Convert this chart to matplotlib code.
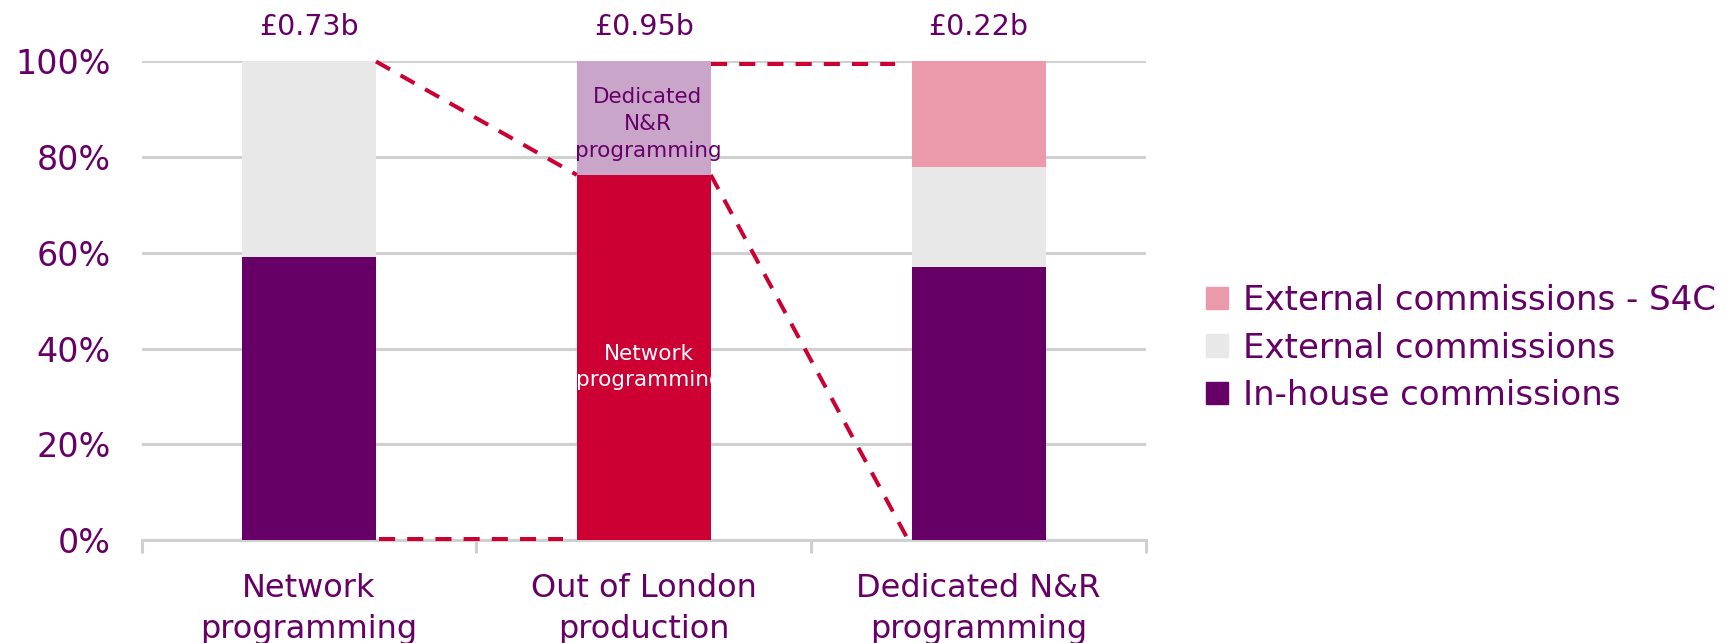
import matplotlib
matplotlib.use("Agg")
import matplotlib.pyplot as plt
from matplotlib.patches import Patch

# chart data (shares in %)
categories = ["Network\nprogramming", "Out of London\nproduction", "Dedicated N&R\nprogramming"]
totals = ["£0.73b", "£0.95b", "£0.22b"]
inhouse = [59.2, 57.1]        # Network programming, Dedicated N&R
external = [40.8, 20.9]
external_s4c = [0.0, 22.0]
ool_network = 76.3            # Out of London production split
ool_dedicated = 23.7

PURPLE = "#660066"
RED = "#CC0033"
GREY = "#E8E8E8"
PINK = "#EA9AAA"
LILAC = "#C9A5C9"
GRID = "#D0D0D0"

plt.rcParams["font.family"] = ["DejaVu Sans"]

fig = plt.figure(figsize=(17.27, 6.43), dpi=100)
ax = fig.add_axes([0.082, 0.16, 0.5816, 0.7444])

w = 0.40
stack_x = [0, 2]

# stacked bars for the two commission breakdowns
ax.bar(stack_x, inhouse, width=w, color=PURPLE, zorder=3)
ax.bar(stack_x, external, width=w, bottom=inhouse, color=GREY, zorder=3)
bott = [a + b for a, b in zip(inhouse, external)]
ax.bar(stack_x, external_s4c, width=w, bottom=bott, color=PINK, zorder=3)

# middle bar: out of London split
ax.bar(1, ool_network, width=w, color=RED, zorder=3)
ax.bar(1, ool_dedicated, width=w, bottom=ool_network, color=LILAC, zorder=3)

# labels inside the middle bar (text spills slightly past the right edge, like the original)
ax.text(1.015, ool_network * 0.475, "Network\nprogramming", color="white",
        ha="center", va="center", fontsize=15.5, linespacing=1.39, zorder=4)
ax.text(1.012, ool_network + ool_dedicated * 0.45, "Dedicated\nN&R\nprogramming", color=PURPLE,
        ha="center", va="center", fontsize=15.5, linespacing=1.46, zorder=4)

# dashed connectors
dash_kw = dict(color=RED, lw=2.9, dashes=(4.0, 3.0), zorder=5, clip_on=False)
ax.plot([w / 2, 1 - w / 2], [100, ool_network], **dash_kw)
ax.plot([w / 2 + 0.01, 1 - w / 2 - 0.04], [0.3, 0.3], **dash_kw)
ax.plot([1 + w / 2, 2 - w / 2 - 0.05], [99.5, 99.5], **dash_kw)
ax.plot([1 + w / 2, 2 - w / 2 - 0.01], [ool_network, 0], **dash_kw)

# totals above bars
for i, t in enumerate(totals):
    ax.text(i, 107.3, t, color=PURPLE, ha="center", va="center", fontsize=20.5, clip_on=False)

ax.set_xlim(-0.5, 2.5)
ax.set_ylim(0, 100)
ax.set_yticks([0, 20, 40, 60, 80, 100])
ax.set_yticklabels(["0%", "20%", "40%", "60%", "80%", "100%"])
ax.set_xticks([0, 1, 2])
ax.set_xticklabels(categories, linespacing=1.4)
ax.set_xticks([-0.5, 0.5, 1.5, 2.5], minor=True)

ax.tick_params(axis="y", length=0, pad=22, labelsize=24, labelcolor=PURPLE)
ax.tick_params(axis="x", which="major", length=0, pad=24, labelsize=23, labelcolor=PURPLE)
ax.tick_params(axis="x", which="minor", length=9, width=2.2, color=GRID)

ax.grid(axis="y", color=GRID, lw=2.2, zorder=0)
for s in ["top", "right", "left"]:
    ax.spines[s].set_visible(False)
ax.spines["bottom"].set_color(GRID)
ax.spines["bottom"].set_linewidth(2.2)

handles = [Patch(color=PINK), Patch(color=GREY), Patch(color=PURPLE)]
labels = ["External commissions - S4C", "External commissions", "In-house commissions"]
fig.legend(handles, labels, loc="center left", bbox_to_anchor=(1206 / 1727, 1 - 348 / 643),
           frameon=False, fontsize=24.5, labelcolor=PURPLE, handlelength=0.64, handleheight=0.64,
           handletextpad=0.45, labelspacing=0.42, borderpad=0, borderaxespad=0)

fig.savefig("out.png", dpi=100)
